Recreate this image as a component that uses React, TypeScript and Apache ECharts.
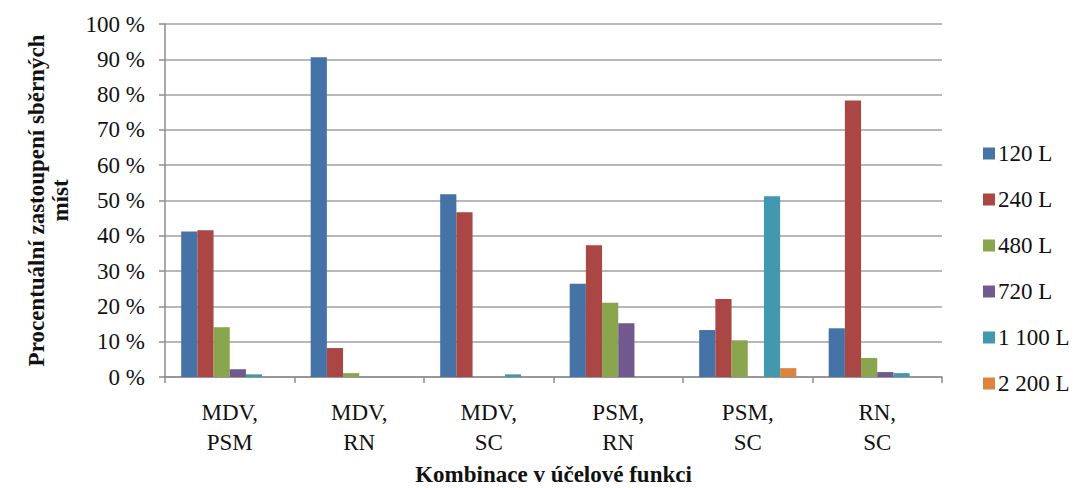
import React, { useEffect, useRef } from "react";
import * as echarts from "echarts";

const categories = ["MDV,\nPSM", "MDV,\nRN", "MDV,\nSC", "PSM,\nRN", "PSM,\nSC", "RN,\nSC"];
const seriesNames = ["120 L", "240 L", "480 L", "720 L", "1 100 L", "2 200 L"];
const v120 = [41.2, 90.6, 51.8, 26.4, 13.3, 13.8];
const v240 = [41.6, 8.2, 46.7, 37.3, 22.1, 78.3];
const v480 = [14.1, 1.1, 0, 21.0, 10.4, 5.4];
const v720 = [2.2, 0, 0, 15.2, 0, 1.4];
const v1100 = [0.75, 0, 0.75, 0, 51.2, 1.1];
const v2200 = [0, 0, 0, 0, 2.5, 0];
const yTicks = [0, 10, 20, 30, 40, 50, 60, 70, 80, 90, 100];
const colors = ["#4572A7", "#AA4643", "#89A54E", "#71588F", "#4198AF", "#DB843D"];

const FONT = "Times New Roman, Liberation Serif, DejaVu Serif, serif";

export default function App() {
  const ref = useRef<HTMLDivElement>(null);
  useEffect(() => {
    if (!ref.current) return;
    const chart = echarts.init(ref.current, null, { renderer: "svg" });
    const values = [v120, v240, v480, v720, v1100, v2200];
    chart.setOption({
      animation: false,
      backgroundColor: "#ffffff",
      color: colors,
      textStyle: { fontFamily: FONT },
      grid: { left: 165, right: 138, top: 24, bottom: 111, containLabel: false, outerBoundsMode: "none" },
      legend: {
        orient: "vertical",
        left: 978,
        top: 137,
        itemWidth: 12,
        itemHeight: 12,
        itemGap: 23,
        icon: "rect",
        data: seriesNames,
        textStyle: { fontFamily: FONT, fontWeight: "normal", fontSize: 23, color: "#111", lineHeight: 22, padding: [0, 0, 0, -2] },
      },
      xAxis: {
        type: "category",
        data: categories,
        boundaryGap: true,
        name: "Kombinace v účelové funkci",
        nameLocation: "middle",
        nameGap: 86,
        nameTextStyle: { fontFamily: FONT, fontSize: 23, fontWeight: "bold", color: "#111" },
        axisLine: { lineStyle: { color: "#8c8c8c", width: 1.5 } },
        axisTick: { show: true, length: 6, lineStyle: { color: "#8c8c8c", width: 1.5 } },
        axisLabel: { fontFamily: FONT, fontWeight: "normal", fontSize: 23, color: "#111", lineHeight: 30, margin: 20 },
        splitLine: { show: false },
      },
      yAxis: {
        type: "value",
        min: 0,
        max: 100,
        interval: 10,
        name: "Procentuální zastoupení sběrných\nmíst",
        nameLocation: "middle",
        nameRotate: 90,
        nameGap: 93,
        nameTextStyle: { fontFamily: FONT, fontSize: 23, fontWeight: "bold", color: "#111", lineHeight: 24 },
        axisLine: { show: true, lineStyle: { color: "#8c8c8c", width: 1.5 } },
        axisTick: { show: true, length: 6, lineStyle: { color: "#8c8c8c", width: 1.5 } },
        axisLabel: {
          fontFamily: FONT,
          fontWeight: "normal",
          fontSize: 23,
          color: "#111",
          margin: 20,
          formatter: (v: number) => (yTicks.includes(v) ? `${v} %` : ""),
        },
        splitLine: { show: true, lineStyle: { color: "#a0a0a0", width: 1.5 } },
      },
      series: seriesNames.map((name, i) => ({
        name,
        type: "bar",
        data: values[i],
        barGap: "0%",
        barCategoryGap: "25%",
        itemStyle: { color: colors[i] },
      })),
    });
    return () => chart.dispose();
  }, []);
  return <div ref={ref} style={{ width: 1080, height: 488, position: "absolute", left: 0, top: 0 }} />;
}
